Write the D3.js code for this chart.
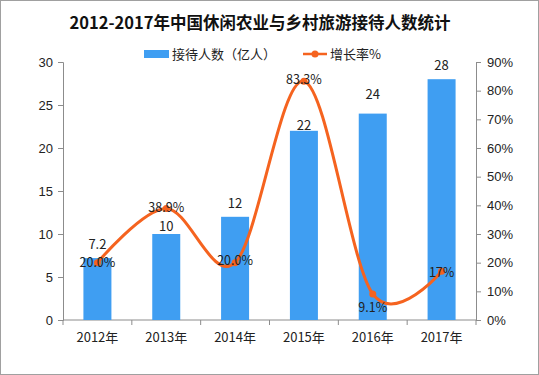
<!DOCTYPE html>
<html lang="zh">
<head>
<meta charset="UTF-8">
<title>接待人数</title>
<script src="https://cdn.jsdelivr.net/npm/d3@7"></script>
<style>
  body{margin:0;background:#fff;}
  svg{display:block;font-family:"Noto Sans CJK SC","DejaVu Sans",sans-serif;}
  .axis path,.axis line{stroke:#8c8c8c;}
  .axis text{font-size:13px;fill:#222;}
</style>
</head>
<body>
<svg id="svg" width="539" height="375"></svg>
<script>
var years = ["2012年","2013年","2014年","2015年","2016年","2017年"],
    visitors = [7.2, 10, 12, 22, 24, 28],
    visitorLabels = ["7.2","10","12","22","24","28"],
    growth = [20.0, 38.9, 20.0, 83.3, 9.1, 17],
    growthLabels = ["20.0%","38.9%","20.0%","83.3%","9.1%","17%"],
    leftTicks = [0,5,10,15,20,25,30],
    rightTicks = [0,10,20,30,40,50,60,70,80,90];

// label nudges (px) as in the original
var barLabelLift = [14, 8, 13, 5, 19, 14],
    lineLabelShift = [0, -1, -2, -2, 14, 1];

var svg = d3.select("svg"),
    W = 539, H = 375,
    m = {top:62, right:63, bottom:55, left:63},
    w = W - m.left - m.right,
    h = H - m.top - m.bottom;

// frame
svg.append("rect").attr("x",0.5).attr("y",0.5).attr("width",W-1).attr("height",H-1)
  .attr("fill","#fff").attr("stroke","#a0a0a0");

svg.append("text").attr("x",260).attr("y",29).attr("text-anchor","middle")
  .style("font-size","16.5px").style("font-weight","bold").attr("fill","#111")
  .text("2012-2017年中国休闲农业与乡村旅游接待人数统计");

// legend
var lg = svg.append("g").attr("transform","translate(144,54)");
lg.append("rect").attr("x",0).attr("y",-4).attr("width",25).attr("height",8).attr("fill","#3f9ef2");
lg.append("text").attr("x",28).attr("y",5).style("font-size","13px").attr("fill","#222").text("接待人数（亿人）");
lg.append("line").attr("x1",159).attr("x2",183).attr("y1",0).attr("y2",0).attr("stroke","#f5631f").attr("stroke-width",2.5);
lg.append("circle").attr("cx",171).attr("cy",0).attr("r",3.5).attr("fill","#f5631f");
lg.append("text").attr("x",186).attr("y",5).style("font-size","13px").attr("fill","#222").text("增长率%");

var g = svg.append("g").attr("transform","translate("+m.left+","+m.top+")");

var xb = d3.scaleBand().domain(years).range([0,w]);
var y = d3.scaleLinear().domain([0,30]).range([h,0]);
var y2 = d3.scaleLinear().domain([0,90]).range([h,0]);

g.append("g").attr("class","axis")
  .call(d3.axisLeft(y).tickValues(leftTicks).tickSize(5).tickSizeOuter(5).tickPadding(5));
g.append("g").attr("class","axis").attr("transform","translate("+w+",0)")
  .call(d3.axisRight(y2).tickValues(rightTicks).tickSize(5).tickSizeOuter(5).tickPadding(6)
    .tickFormat(function(d){return d+"%";}));

var bx = g.append("g").attr("class","axis").attr("transform","translate(0,"+h+")");
bx.append("line").attr("x1",0).attr("x2",w).attr("stroke","#8c8c8c");
bx.selectAll("line.t").data(d3.range(years.length+1)).enter().append("line").attr("class","t")
  .attr("x1",function(i){return i*xb.step();}).attr("x2",function(i){return i*xb.step();})
  .attr("y1",0).attr("y2",5).attr("stroke","#8c8c8c");
bx.selectAll("text").data(years).enter().append("text")
  .attr("x",function(d){return xb(d)+xb.bandwidth()/2;}).attr("y",22)
  .attr("text-anchor","middle").text(function(d){return d;});

var bw = 28;
var cx = function(i){return xb(years[i])+xb.bandwidth()/2;};

g.selectAll("rect.bar").data(visitors).enter().append("rect").attr("class","bar")
  .attr("x",function(d,i){return cx(i)-bw/2;})
  .attr("width",bw)
  .attr("y",function(d){return y(d);})
  .attr("height",function(d){return h-y(d);})
  .attr("fill","#3f9ef2");

g.selectAll("text.bl").data(visitors).enter().append("text").attr("class","bl")
  .attr("x",function(d,i){return cx(i);})
  .attr("y",function(d,i){return y(d)-barLabelLift[i];})
  .attr("dy","0.35em")
  .attr("text-anchor","middle").style("font-size","13px").attr("fill","#222")
  .text(function(d,i){return visitorLabels[i];});

var line = d3.line().x(function(d,i){return cx(i);}).y(function(d){return y2(d);})
  .curve(d3.curveCardinal.tension(0));
g.append("path").datum(growth).attr("d",line).attr("fill","none")
  .attr("stroke","#f5631f").attr("stroke-width",3);
g.selectAll("circle.pt").data(growth).enter().append("circle").attr("class","pt")
  .attr("cx",function(d,i){return cx(i);}).attr("cy",function(d){return y2(d);})
  .attr("r",3.5).attr("fill","#f5631f");

g.selectAll("text.gl").data(growth).enter().append("text").attr("class","gl")
  .attr("x",function(d,i){return cx(i);})
  .attr("y",function(d,i){return y2(d)+lineLabelShift[i];})
  .attr("dy","0.35em")
  .attr("text-anchor","middle").style("font-size","12.5px").attr("fill","#222")
  .text(function(d,i){return growthLabels[i];});
</script>
</body>
</html>
